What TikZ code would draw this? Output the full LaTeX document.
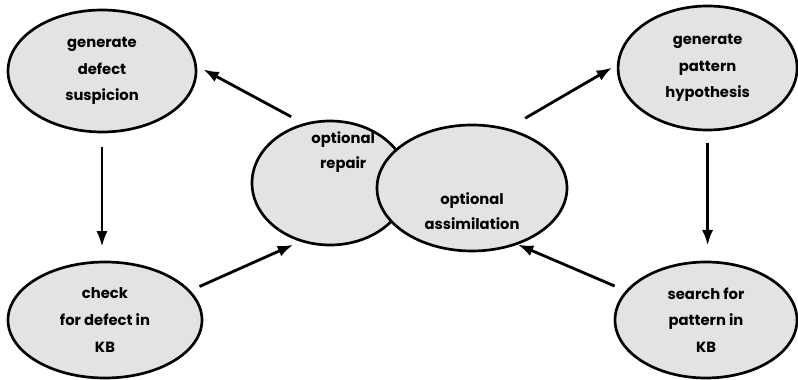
\documentclass[tikz,border=0pt]{standalone}
\usepackage{fontspec}
\newfontfamily\bubblefont{Poppins}
\usetikzlibrary{arrows.meta,shapes.geometric,positioning}

\tikzset{
  bubble/.style={ellipse,draw,line width=1.9pt,fill=gray!22,inner sep=0pt,
    align=center,font=\bubblefont\bfseries\fontsize{10.5}{19}\selectfont},
  bubbletxt/.style={align=center,inner sep=0pt,
    font=\bubblefont\bfseries\fontsize{10.5}{17.5}\selectfont},
  flow/.style={line width=2pt,-{Latex[length=11pt,width=8pt]}}
}

\begin{document}
\begin{tikzpicture}
  \useasboundingbox (0,0) rectangle (19.95,9.5);
  % outer steps
  \node[bubble,minimum width=4.7cm,minimum height=3.05cm] (defect) at (2.55,7.725)
       {generate\\defect\\suspicion};
  \node[bubble,minimum width=4.475cm,minimum height=3.1cm] (pattern) at (17.69,7.8)
       {generate\\pattern\\hypothesis};
  \node[bubble,minimum width=4.85cm,minimum height=2.9cm] (check) at (2.625,1.5)
       {check\\for defect in\\KB};
  \node[bubble,minimum width=4.55cm,minimum height=2.9cm] (search) at (17.65,1.5)
       {search for\\pattern in\\KB};
  % the two optional steps, right one on top
  \node[bubble,minimum width=3.9cm,minimum height=3.1cm] (repair) at (8.25,4.925) {};
  \node[bubble,minimum width=4.75cm,minimum height=3.15cm] (assim) at (11.8,4.8) {};
  \node[bubbletxt] (repairtxt) at ([shift={(0.33,0.78)}]repair.center) {optional\\repair};
  \node[bubbletxt] (assimtxt) at ([shift={(0,-0.575)}]assim.center) {optional\\assimilation};

  \draw[flow,shorten <=0.35cm,shorten >=0.18cm] (repair.114) -- (defect.3);
  \draw[flow,shorten <=0.5cm,shorten >=0.14cm] (assim.59) -- (pattern.178);
  \draw[flow,shorten <=0.33cm,shorten >=0.35cm] (defect.south) -- (defect.south |- check.north);
  \draw[flow,shorten <=0.3cm,shorten >=0.38cm] (pattern.south) -- (pattern.south |- search.north);
  \draw[flow,shorten <=0.25cm,shorten >=0.19cm] (check.19.5) -- (repair.243);
  \draw[flow,shorten <=0.3cm] (search.160.6) -- (assim.309);
\end{tikzpicture}
\end{document}
